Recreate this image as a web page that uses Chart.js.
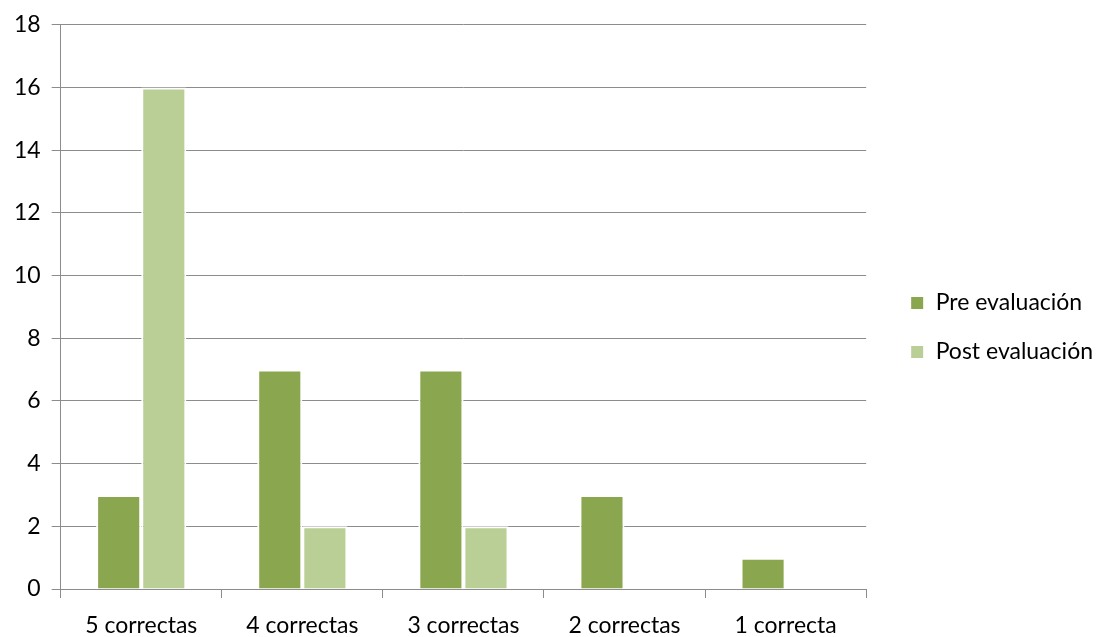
<!DOCTYPE html>
<html>
<head>
<meta charset="utf-8">
<script src="https://cdn.jsdelivr.net/npm/chart.js@4"></script>
<style>
  html, body { margin: 0; padding: 0; background: #fff; }
  #wrap { width: 1111px; height: 637px; }
</style>
</head>
<body>
<div id="wrap"><canvas id="grafico" width="1111" height="637"></canvas></div>
<script>
// Datos
const categorias = ['5 correctas', '4 correctas', '3 correctas', '2 correctas', '1 correcta'];
const preEvaluacion = [3, 7, 7, 3, 1];
const postEvaluacion = [16, 2, 2, 0, 0];

const fuente = "Lato, 'Open Sans', sans-serif";
const gris = '#8c8c8c';

new Chart(document.getElementById('grafico'), {
  type: 'bar',
  data: {
    labels: categorias,
    datasets: [
      {
        label: 'Pre evaluación',
        data: preEvaluacion,
        backgroundColor: '#8aa64f',
        borderColor: '#ffffff',
        borderWidth: 2,
        borderSkipped: 'bottom'
      },
      {
        label: 'Post evaluación',
        data: postEvaluacion,
        backgroundColor: '#b9cf96',
        borderColor: '#ffffff',
        borderWidth: 2,
        borderSkipped: 'bottom'
      }
    ]
  },
  options: {
    responsive: false,
    animation: false,
    layout: { padding: { top: 18, right: 8, bottom: 0, left: 3 } },
    datasets: { bar: { barPercentage: 1, categoryPercentage: 0.56 } },
    plugins: {
      legend: {
        position: 'right',
        maxWidth: 300,
        labels: {
          font: { family: fuente, size: 23 },
          color: '#000',
          boxWidth: 14,
          boxHeight: 14,
          padding: 26
        }
      },
      tooltip: { enabled: false }
    },
    scales: {
      x: {
        grid: { drawOnChartArea: false, color: gris, tickLength: 9 },
        border: { color: gris, width: 1 },
        ticks: { font: { family: fuente, size: 23 }, color: '#000', padding: 14 },
        afterFit: (s) => { s.height = 48; }
      },
      y: {
        min: 0,
        max: 18,
        ticks: { stepSize: 2, font: { family: fuente, size: 23 }, color: '#000', padding: 11 },
        grid: { color: gris, tickLength: 9 },
        border: { color: gris, width: 1 }
      },
      // eje vacío solo para separar la leyenda
      hueco: {
        position: 'right',
        grid: { display: false },
        border: { display: false },
        ticks: { display: false },
        afterFit: (s) => { s.width = 18; }
      }
    }
  }
});
</script>
</body>
</html>
